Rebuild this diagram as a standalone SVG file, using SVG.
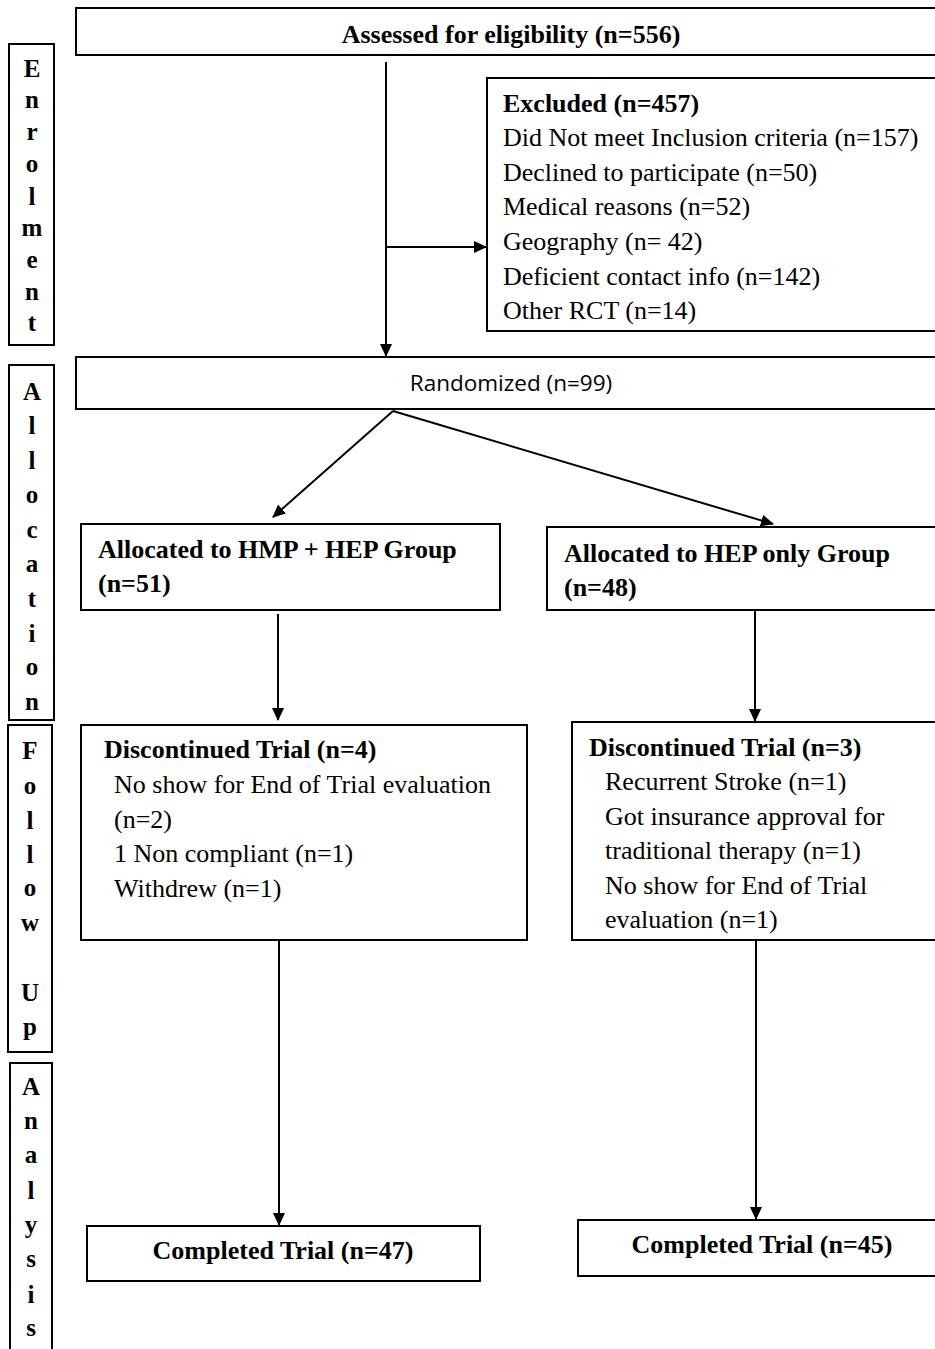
<svg xmlns="http://www.w3.org/2000/svg" width="935" height="1349" viewBox="0 0 935 1349">
<style>
.box{fill:#fff;stroke:#000;stroke-width:2}
.t{font-family:"Liberation Serif","Times New Roman",serif;font-size:26px;fill:#000}
.b{font-weight:bold}
.side{font-family:"Liberation Serif","Times New Roman",serif;font-size:25px;font-weight:bold;fill:#000;text-anchor:middle}
.s{font-family:"Open Sans","Noto Sans",sans-serif;font-size:22.5px;fill:#000}
.c{fill:none;stroke:#000;stroke-width:2}
</style>
<defs>
<marker id="ah" markerWidth="13" markerHeight="12" refX="12" refY="6" orient="auto" markerUnits="userSpaceOnUse">
<path d="M0,0 L13,6 L0,12 Z" fill="#000"/>
</marker>
</defs>
<rect width="935" height="1349" fill="#fff"/>

<g id="side-enrolment">
<rect class="box" x="9" y="44" width="45" height="301"/>
<text class="side" x="32" y="77">E</text>
<text class="side" x="32" y="108">n</text>
<text class="side" x="32" y="140">r</text>
<text class="side" x="32" y="172">o</text>
<text class="side" x="32" y="205">l</text>
<text class="side" x="32" y="236">m</text>
<text class="side" x="32" y="268">e</text>
<text class="side" x="32" y="300">n</text>
<text class="side" x="32" y="331">t</text>
</g>
<g id="side-allocation">
<rect class="box" x="9" y="365" width="45" height="355"/>
<text class="side" x="32" y="400">A</text>
<text class="side" x="32" y="434">l</text>
<text class="side" x="32" y="469">l</text>
<text class="side" x="32" y="503">o</text>
<text class="side" x="32" y="538">c</text>
<text class="side" x="32" y="572">a</text>
<text class="side" x="32" y="607">t</text>
<text class="side" x="32" y="642">i</text>
<text class="side" x="32" y="675">o</text>
<text class="side" x="32" y="710">n</text>
</g>
<g id="side-followup">
<rect class="box" x="8" y="725" width="44" height="327"/>
<text class="side" x="30" y="759">F</text>
<text class="side" x="30" y="794">o</text>
<text class="side" x="30" y="829">l</text>
<text class="side" x="30" y="863">l</text>
<text class="side" x="30" y="896">o</text>
<text class="side" x="30" y="931">w</text>
<text class="side" x="30" y="1001">U</text>
<text class="side" x="30" y="1035">p</text>
</g>
<g id="side-analysis">
<rect class="box" x="10" y="1063" width="42" height="300"/>
<text class="side" x="31" y="1095">A</text>
<text class="side" x="31" y="1129">n</text>
<text class="side" x="31" y="1163">a</text>
<text class="side" x="31" y="1199">l</text>
<text class="side" x="31" y="1233">y</text>
<text class="side" x="31" y="1267">s</text>
<text class="side" x="31" y="1303">i</text>
<text class="side" x="31" y="1336">s</text>
</g>

<g id="connectors">
<line class="c" x1="386" y1="62" x2="386" y2="356" marker-end="url(#ah)"/>
<line class="c" x1="386" y1="247" x2="486" y2="247" marker-end="url(#ah)"/>
<line class="c" x1="393" y1="411" x2="273" y2="517" marker-end="url(#ah)"/>
<line class="c" x1="393" y1="411" x2="773" y2="524" marker-end="url(#ah)"/>
<line class="c" x1="278" y1="614" x2="278" y2="720" marker-end="url(#ah)"/>
<line class="c" x1="755" y1="610" x2="755" y2="721" marker-end="url(#ah)"/>
<line class="c" x1="279" y1="940" x2="279" y2="1225" marker-end="url(#ah)"/>
<line class="c" x1="756" y1="940" x2="756" y2="1219" marker-end="url(#ah)"/>
</g>

<g id="assessed">
<rect class="box" x="76" y="8" width="870" height="47"/>
<text class="t b" x="511" y="43" text-anchor="middle">Assessed for eligibility (n=556)</text>
</g>
<g id="excluded">
<rect class="box" x="487" y="78" width="460" height="253"/>
<text class="t b" x="503" y="112">Excluded (n=457)</text>
<text class="t" x="503" y="146">Did Not meet Inclusion criteria (n=157)</text>
<text class="t" x="503" y="181">Declined to participate (n=50)</text>
<text class="t" x="503" y="215">Medical reasons (n=52)</text>
<text class="t" x="503" y="250">Geography (n= 42)</text>
<text class="t" x="503" y="285">Deficient contact info (n=142)</text>
<text class="t" x="503" y="319">Other RCT (n=14)</text>
</g>
<g id="randomized">
<rect class="box" x="76" y="357" width="870" height="52"/>
<text class="s" x="511" y="391" text-anchor="middle">Randomized (n=99)</text>
</g>
<g id="alloc-hmp">
<rect class="box" x="81" y="524" width="419" height="86"/>
<text class="t b" x="98" y="558">Allocated to HMP + HEP Group</text>
<text class="t b" x="98" y="592">(n=51)</text>
</g>
<g id="alloc-hep">
<rect class="box" x="547" y="527" width="400" height="83"/>
<text class="t b" x="564" y="562">Allocated to HEP only Group</text>
<text class="t b" x="564" y="596">(n=48)</text>
</g>
<g id="disc-hmp">
<rect class="box" x="81" y="725" width="446" height="215"/>
<text class="t b" x="104" y="758">Discontinued Trial (n=4)</text>
<text class="t" x="114" y="793">No show for End of Trial evaluation</text>
<text class="t" x="114" y="828">(n=2)</text>
<text class="t" x="114" y="862">1 Non compliant (n=1)</text>
<text class="t" x="114" y="897">Withdrew (n=1)</text>
</g>
<g id="disc-hep">
<rect class="box" x="572" y="722" width="375" height="218"/>
<text class="t b" x="589" y="756">Discontinued Trial (n=3)</text>
<text class="t" x="605" y="790">Recurrent Stroke (n=1)</text>
<text class="t" x="605" y="825">Got insurance approval for</text>
<text class="t" x="605" y="859">traditional therapy (n=1)</text>
<text class="t" x="605" y="894">No show for End of Trial</text>
<text class="t" x="605" y="928">evaluation (n=1)</text>
</g>
<g id="completed-hmp">
<rect class="box" x="87" y="1226" width="393" height="55"/>
<text class="t b" x="283" y="1259" text-anchor="middle">Completed Trial (n=47)</text>
</g>
<g id="completed-hep">
<rect class="box" x="578" y="1220" width="369" height="56"/>
<text class="t b" x="762" y="1253" text-anchor="middle">Completed Trial (n=45)</text>
</g>
</svg>
